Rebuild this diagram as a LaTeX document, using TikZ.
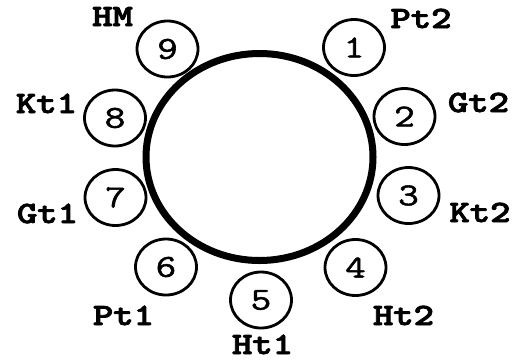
\documentclass[tikz,border=0pt]{standalone}
\usepackage{fontspec}
\newfontfamily\darkmono{lmmonolt10-bold.otf}[FakeBold=2.5]
\newfontfamily\digitmono{Latin Modern Mono}[FakeBold=1.5]
\usetikzlibrary{shapes.geometric}
\newcommand{\wide}[1]{\scalebox{1.25}[1]{#1}}
\begin{document}
\begin{tikzpicture}[x=1pt,y=-1pt,
  ring/.style={draw, ellipse, line width=7pt, minimum width=227pt, minimum height=207pt, inner sep=0pt},
  site/.style={draw, ellipse, line width=2.8pt, minimum width=61pt, minimum height=56pt, inner sep=0pt, font=\fontsize{32}{32}\selectfont\digitmono\bfseries},
  lab/.style={inner sep=0pt, anchor=base, font=\fontsize{31}{31}\selectfont\darkmono\bfseries}]
\useasboundingbox (0,0) rectangle (513,360);
\node[ring] (ring) at (259.5,157) {};
\node[site] (s1) at (354,47.5) {\wide{1}};
\node[site] (s2) at (404.5,116.5) {\wide{2}};
\node[site] (s3) at (408.5,195.5) {\wide{3}};
\node[site] (s4) at (355.5,267.5) {\wide{4}};
\node[site] (s5) at (261,300) {\wide{5}};
\node[site] (s6) at (166,267) {\wide{6}};
\node[site] (s7) at (115.5,197.5) {\wide{7}};
\node[site] (s8) at (115,118) {\wide{8}};
\node[site] (s9) at (167.5,49) {\wide{9}};
\node[lab] (l1) at (421,28) {\wide{Pt2}};
\node[lab] (l2) at (478.5,112) {\wide{Gt2}};
\node[lab] (l3) at (480,222) {\wide{Kt2}};
\node[lab] (l4) at (403.5,325) {\wide{Ht2}};
\node[lab] (l5) at (262.5,354) {\wide{Ht1}};
\node[lab] (l6) at (123.5,325) {\wide{Pt1}};
\node[lab] (l7) at (47.5,223) {\wide{Gt1}};
\node[lab] (l8) at (46.5,113) {\wide{Kt1}};
\node[lab] (l9) at (112.5,26) {\wide{HM}};
\end{tikzpicture}
\end{document}
